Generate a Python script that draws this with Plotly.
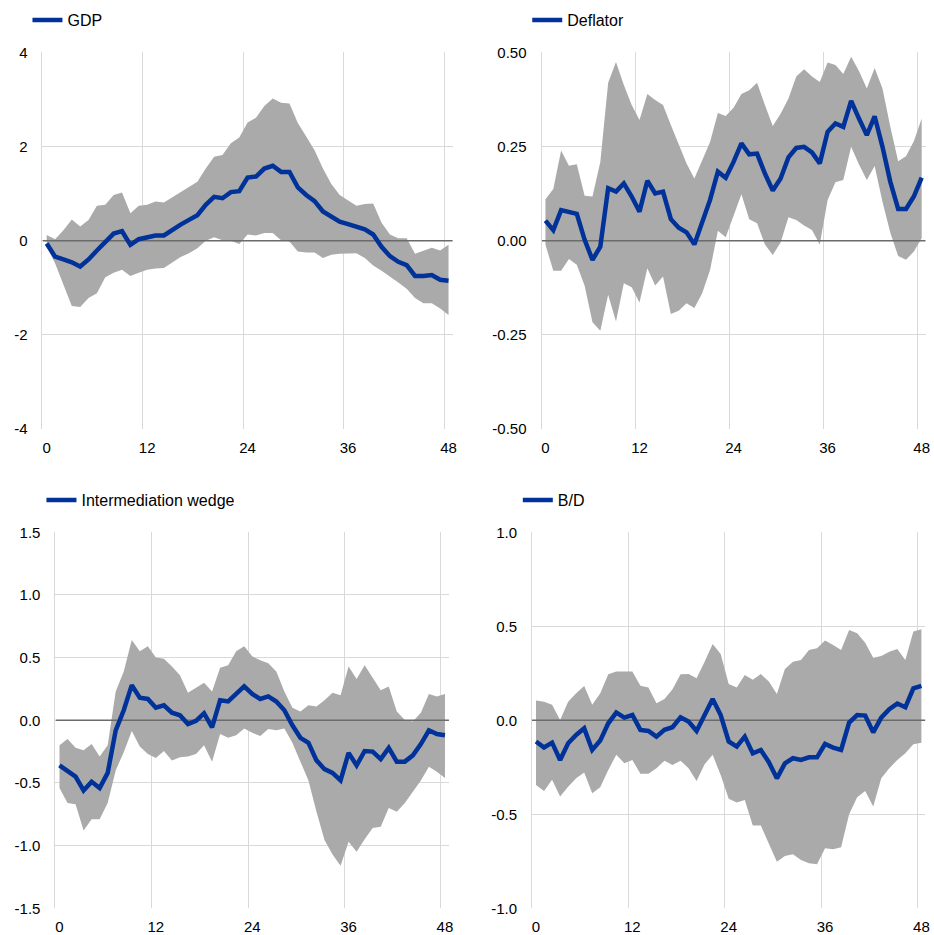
import plotly.graph_objects as go

horizon = list(range(49))
x_tick_vals = [0, 12, 24, 36, 48]
x_tick_text = ["0", "12", "24", "36", "48"]

# ---- GDP ----
gdp_mean = [-0.06, -0.34, -0.40, -0.46, -0.55, -0.40, -0.21, -0.04, 0.15, 0.20,
            -0.09, 0.03, 0.07, 0.11, 0.11, 0.23, 0.34, 0.44, 0.54, 0.76,
            0.93, 0.90, 1.03, 1.05, 1.34, 1.36, 1.53, 1.59, 1.46, 1.46,
            1.13, 0.97, 0.84, 0.62, 0.50, 0.40, 0.35, 0.29, 0.24, 0.13,
            -0.13, -0.33, -0.45, -0.52, -0.75, -0.75, -0.73, -0.83, -0.85]
gdp_upper = [0.12, 0.03, 0.22, 0.45, 0.30, 0.44, 0.74, 0.76, 0.97, 1.02,
             0.58, 0.74, 0.76, 0.83, 0.81, 0.92, 1.04, 1.15, 1.25, 1.53,
             1.78, 1.82, 2.07, 2.19, 2.51, 2.61, 2.86, 3.02, 2.93, 2.91,
             2.50, 2.21, 1.92, 1.53, 1.20, 0.97, 0.86, 0.74, 0.78, 0.79,
             0.38, 0.13, 0.05, 0.05, -0.28, -0.21, -0.15, -0.21, -0.09]
gdp_lower = [-0.13, -0.48, -0.95, -1.39, -1.41, -1.22, -1.12, -0.78, -0.68, -0.62,
             -0.75, -0.68, -0.62, -0.59, -0.58, -0.47, -0.35, -0.27, -0.16, 0.00,
             0.07, 0.01, 0.00, -0.07, 0.13, 0.11, 0.16, 0.16, 0.01, -0.02,
             -0.23, -0.25, -0.25, -0.37, -0.30, -0.28, -0.27, -0.27, -0.37, -0.53,
             -0.64, -0.76, -0.89, -1.02, -1.22, -1.33, -1.33, -1.44, -1.58]

# ---- Deflator ----
defl_mean = [0.053, 0.028, 0.081, 0.077, 0.071, 0.002, -0.051, -0.016, 0.139, 0.130,
             0.152, 0.117, 0.077, 0.159, 0.125, 0.130, 0.057, 0.034, 0.022, -0.010,
             0.046, 0.108, 0.183, 0.167, 0.209, 0.258, 0.229, 0.231, 0.178, 0.133,
             0.165, 0.221, 0.246, 0.249, 0.234, 0.205, 0.289, 0.311, 0.302, 0.371,
             0.324, 0.280, 0.330, 0.249, 0.156, 0.084, 0.084, 0.117, 0.167]
defl_upper = [0.110, 0.137, 0.239, 0.199, 0.203, 0.119, 0.117, 0.209, 0.419, 0.474,
              0.413, 0.360, 0.320, 0.389, 0.373, 0.360, 0.307, 0.254, 0.205, 0.165,
              0.214, 0.262, 0.339, 0.331, 0.353, 0.389, 0.399, 0.419, 0.360, 0.304,
              0.337, 0.377, 0.436, 0.455, 0.436, 0.421, 0.473, 0.466, 0.442, 0.488,
              0.450, 0.404, 0.458, 0.404, 0.302, 0.211, 0.224, 0.264, 0.324]
defl_lower = [-0.011, -0.080, -0.080, -0.049, -0.064, -0.120, -0.217, -0.239, -0.144, -0.215,
              -0.113, -0.124, -0.164, -0.073, -0.119, -0.095, -0.195, -0.186, -0.166, -0.179,
              -0.140, -0.078, 0.026, 0.009, 0.065, 0.123, 0.057, 0.046, -0.010, -0.038,
              -0.005, 0.062, 0.055, 0.040, 0.028, -0.010, 0.108, 0.155, 0.161, 0.249,
              0.202, 0.161, 0.198, 0.103, 0.021, -0.041, -0.051, -0.029, 0.006]

# ---- Intermediation wedge ----
wedge_mean = [-0.36, -0.41, -0.45, -0.56, -0.49, -0.54, -0.42, -0.08, 0.08, 0.28,
              0.18, 0.17, 0.10, 0.12, 0.06, 0.04, -0.03, -0.005, 0.056, -0.056,
              0.16, 0.15, 0.215, 0.27, 0.21, 0.17, 0.19, 0.15, 0.08, -0.04,
              -0.14, -0.18, -0.32, -0.39, -0.42, -0.48, -0.26, -0.36, -0.245, -0.25,
              -0.31, -0.22, -0.33, -0.33, -0.28, -0.19, -0.08, -0.11, -0.12]
wedge_upper = [-0.20, -0.15, -0.22, -0.24, -0.19, -0.29, -0.20, 0.23, 0.39, 0.64,
               0.55, 0.59, 0.50, 0.49, 0.43, 0.36, 0.22, 0.26, 0.30, 0.23,
               0.42, 0.44, 0.55, 0.59, 0.51, 0.48, 0.455, 0.39, 0.23, 0.10,
               0.07, 0.12, 0.11, 0.16, 0.22, 0.20, 0.43, 0.33, 0.44, 0.34,
               0.24, 0.27, 0.07, 0.003, -0.01, 0.06, 0.21, 0.19, 0.21]
wedge_lower = [-0.54, -0.66, -0.67, -0.88, -0.79, -0.79, -0.66, -0.40, -0.255, -0.085,
               -0.21, -0.27, -0.30, -0.245, -0.32, -0.295, -0.29, -0.27, -0.20, -0.33,
               -0.11, -0.14, -0.12, -0.065, -0.10, -0.125, -0.07, -0.08, -0.065, -0.18,
               -0.33, -0.48, -0.73, -0.955, -1.07, -1.16, -0.97, -1.05, -0.95, -0.86,
               -0.85, -0.70, -0.73, -0.66, -0.57, -0.48, -0.37, -0.41, -0.46]

# ---- B/D ----
bd_mean = [-0.113, -0.145, -0.119, -0.211, -0.122, -0.078, -0.043, -0.158, -0.108, -0.016,
           0.041, 0.014, 0.028, -0.051, -0.057, -0.087, -0.051, -0.037, 0.016, -0.007,
           -0.057, 0.032, 0.113, 0.028, -0.113, -0.140, -0.087, -0.176, -0.158, -0.223,
           -0.309, -0.229, -0.202, -0.211, -0.197, -0.197, -0.126, -0.145, -0.158, -0.012,
           0.028, 0.025, -0.064, 0.014, 0.059, 0.089, 0.069, 0.170, 0.183]
bd_upper = [0.105, 0.099, 0.082, 0.002, 0.099, 0.144, 0.183, 0.082, 0.144, 0.245,
            0.259, 0.259, 0.259, 0.184, 0.174, 0.090, 0.113, 0.165, 0.245, 0.246,
            0.223, 0.312, 0.406, 0.353, 0.193, 0.174, 0.241, 0.215, 0.246, 0.206,
            0.140, 0.273, 0.312, 0.321, 0.374, 0.383, 0.424, 0.401, 0.374, 0.480,
            0.463, 0.413, 0.333, 0.342, 0.365, 0.379, 0.321, 0.472, 0.484]
bd_lower = [-0.344, -0.376, -0.317, -0.406, -0.353, -0.309, -0.278, -0.388, -0.356, -0.264,
            -0.184, -0.229, -0.211, -0.285, -0.285, -0.255, -0.215, -0.238, -0.215, -0.255,
            -0.323, -0.234, -0.184, -0.291, -0.418, -0.438, -0.424, -0.560, -0.560, -0.654,
            -0.752, -0.722, -0.713, -0.743, -0.761, -0.766, -0.681, -0.686, -0.676, -0.500,
            -0.410, -0.376, -0.459, -0.309, -0.255, -0.211, -0.176, -0.128, -0.119]

panels = [
    dict(name="GDP", mean=gdp_mean, upper=gdp_upper, lower=gdp_lower,
         yrange=[-4, 4], ytickvals=[-4, -2, 0, 2, 4],
         yticktext=["-4", "-2", "0", "2", "4"],
         xdom=[0.0455, 0.4847], ydom=[0.5412, 0.9441],
         leg=(0.0294, 0.9786)),
    dict(name="Deflator", mean=defl_mean, upper=defl_upper, lower=defl_lower,
         yrange=[-0.5, 0.5], ytickvals=[-0.5, -0.25, 0, 0.25, 0.5],
         yticktext=["-0.50", "-0.25", "0.00", "0.25", "0.50"],
         xdom=[0.5798, 0.9910], ydom=[0.5412, 0.9441],
         leg=(0.5645, 0.9786)),
    dict(name="Intermediation wedge", mean=wedge_mean, upper=wedge_upper, lower=wedge_lower,
         yrange=[-1.5, 1.5], ytickvals=[-1.5, -1.0, -0.5, 0, 0.5, 1.0, 1.5],
         yticktext=["-1.5", "-1.0", "-0.5", "0.0", "0.5", "1.0", "1.5"],
         xdom=[0.0594, 0.4807], ydom=[0.0286, 0.4307],
         leg=(0.0444, 0.4652)),
    dict(name="B/D", mean=bd_mean, upper=bd_upper, lower=bd_lower,
         yrange=[-1.0, 1.0], ytickvals=[-1.0, -0.5, 0, 0.5, 1.0],
         yticktext=["-1.0", "-0.5", "0.0", "0.5", "1.0"],
         xdom=[0.5696, 0.9908], ydom=[0.0286, 0.4307],
         leg=(0.5544, 0.4652)),
]

BLUE = "#003299"
BAND = "#aaaaaa"
GRID = "#d9d9d9"
ZERO = "#6b6b6b"
FONT = "Liberation Sans, Arial, sans-serif"

fig = go.Figure()
layout = dict(
    width=934, height=935,
    margin=dict(l=0, r=0, t=0, b=0, autoexpand=False),
    paper_bgcolor="white", plot_bgcolor="white",
    font=dict(family=FONT, size=15, color="#000000"),
)

x_min, x_max = horizon[0] - 0.5, horizon[-1] + 0.5

for i, p in enumerate(panels):
    n = "" if i == 0 else str(i + 1)
    xa, ya = "x" + n, "y" + n
    legname = "legend" + n
    # band
    fig.add_trace(go.Scatter(
        x=horizon + horizon[::-1], y=p["upper"] + p["lower"][::-1],
        fill="toself", fillcolor=BAND, line=dict(width=0, color=BAND),
        mode="lines", hoverinfo="skip", showlegend=False,
        xaxis=xa, yaxis=ya))
    # zero baseline (above band, below line)
    fig.add_trace(go.Scatter(
        x=[x_min, x_max], y=[0, 0], mode="lines",
        line=dict(color=ZERO, width=1.5), hoverinfo="skip", showlegend=False,
        xaxis=xa, yaxis=ya))
    # mean line
    fig.add_trace(go.Scatter(
        x=horizon, y=p["mean"], mode="lines", name=p["name"],
        line=dict(color=BLUE, width=4.5), showlegend=True, legend=legname,
        xaxis=xa, yaxis=ya))

    layout["xaxis" + n] = dict(
        domain=p["xdom"], anchor=ya, range=[x_min, x_max],
        tickmode="array", tickvals=x_tick_vals, ticktext=x_tick_text,
        showgrid=False, zeroline=False, showline=False, ticks="",
        ticklabelstandoff=8, automargin=False,
        tickfont=dict(family=FONT, size=15, color="#000000"),
        minor=dict(tickmode="linear", tick0=x_min, dtick=12,
                   showgrid=True, gridcolor=GRID, gridwidth=1, ticks=""),
        fixedrange=True)
    layout["yaxis" + n] = dict(
        domain=p["ydom"], anchor=xa, range=p["yrange"],
        tickmode="array", tickvals=p["ytickvals"], ticktext=p["yticktext"],
        showgrid=True, gridcolor=GRID, gridwidth=1, zeroline=False,
        showline=True, linecolor=GRID, linewidth=1, ticks="",
        ticklabelstandoff=11, automargin=False,
        tickfont=dict(family=FONT, size=15, color="#000000"),
        fixedrange=True)
    layout[legname] = dict(
        x=p["leg"][0], y=p["leg"][1], xanchor="left", yanchor="middle",
        bgcolor="rgba(0,0,0,0)", borderwidth=0,
        font=dict(family=FONT, size=16, color="#000000"),
        itemwidth=30)

fig.update_layout(**layout)

fig.write_html("out.html", config={"displayModeBar": False},
               post_script="document.body.style.margin='0';")
